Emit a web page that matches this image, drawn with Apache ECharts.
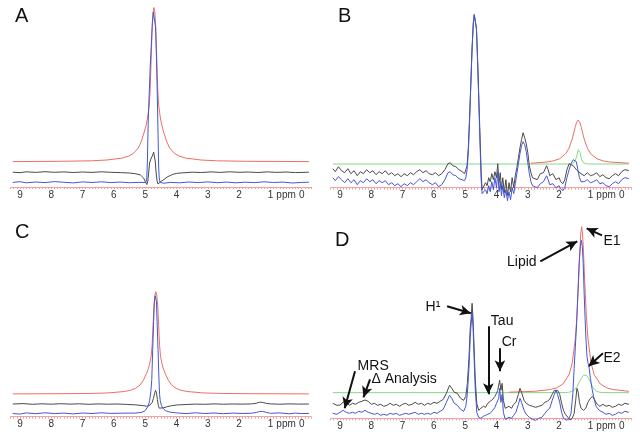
<!DOCTYPE html>
<html>
<head>
<meta charset="utf-8">
<script src="https://cdn.jsdelivr.net/npm/echarts@6/dist/echarts.min.js"></script>
<style>
html,body{margin:0;padding:0;background:#fff;}
#c{width:640px;height:439px;}
</style>
</head>
<body>
<div id="c"></div>
<script>
// ---------- tick labels ----------
const tickValues = [0,1,2,3,4,5,6,7,8,9];
const unitLabel = {value: 0.5, text: 'ppm'};
const panelLetters = ['A','B','C','D'];

// ---------- panel A ----------
const redA = [[9.23,25.4],[7.72,25.7],[6.72,26.2],[6.22,27],[5.72,29],[5.52,31],[5.37,33.7],[5.22,39],[5.12,46],[5.02,56],[4.97,62],[4.92,70],[4.87,82],[4.84,98],[4.81,128],[4.78,158],[4.75,174],[4.72,179.5],[4.69,174],[4.66,158],[4.63,128],[4.6,98],[4.57,82],[4.52,70],[4.47,62],[4.42,56],[4.32,46],[4.22,39],[4.07,33.7],[3.92,31],[3.72,29],[3.22,27],[2.72,26.2],[1.72,25.7],[-0.23,25.4]];
const blackA = [[9.23,14.8],[9.0,14.3],[8.8,15.2],[8.5,14.6],[8.2,15.3],[7.9,14.7],[7.6,15.1],[7.3,14.5],[7.0,15.0],[6.7,14.6],[6.4,15.2],[6.1,14.7],[5.8,14.4],[5.5,14.0],[5.3,13.2],[5.15,12],[5.05,9],[4.99,5],[4.95,2.5],[4.92,5],[4.89,14],[4.86,24],[4.82,28],[4.79,28.5],[4.76,32],[4.73,35],[4.7,33.5],[4.68,26],[4.65,14],[4.62,6],[4.59,3],[4.56,4],[4.5,5.5],[4.4,7.5],[4.3,10],[4.2,11.5],[4.1,12.8],[4.0,13.6],[3.8,14.2],[3.5,14.8],[3.2,14.5],[2.9,15.1],[2.6,14.6],[2.3,15.2],[2.0,14.7],[1.7,15.0],[1.4,14.5],[1.1,15.1],[0.8,14.6],[0.5,15.0],[0.2,14.4],[-0.23,14.8]];
const blueA = [[9.23,4.6],[9.0,5.3],[8.8,4.2],[8.5,5.0],[8.2,4.4],[7.9,5.4],[7.6,4.7],[7.3,4.1],[7.0,5.1],[6.7,4.5],[6.4,5.2],[6.1,4.4],[5.8,4.9],[5.5,4.3],[5.2,4.6],[4.98,4.5],[4.95,8],[4.93,25],[4.915,50],[4.9,70],[4.87,95],[4.84,120],[4.8,145],[4.77,165],[4.74,175],[4.72,177],[4.7,174],[4.67,160],[4.64,130],[4.62,100],[4.6,70],[4.585,45],[4.57,20],[4.55,8],[4.52,4.5],[4.4,3.8],[4.2,4.6],[3.9,4.2],[3.6,5.0],[3.3,4.4],[3.0,5.1],[2.7,4.3],[2.4,4.9],[2.1,4.2],[1.8,4.8],[1.5,4.4],[1.2,5.2],[0.9,4.5],[0.6,4.9],[0.3,4.0],[0.0,4.6],[-0.23,4.8]];

// ---------- panel B ----------
const greenB = [[9.23,23.7],[1.58,23.7],[1.5,26],[1.44,31],[1.39,38],[1.36,39.5],[1.33,35],[1.28,28],[1.22,25],[1.15,24],[1.05,23.7],[-0.23,23.7]];
const redB = [[2.9,24.4],[2.39,25.7],[2.19,26.8],[1.99,28.9],[1.79,33.9],[1.69,39.1],[1.59,47.8],[1.54,53.7],[1.49,60.2],[1.44,65.5],[1.39,67.7],[1.34,65.5],[1.29,60.2],[1.24,53.7],[1.19,47.8],[1.09,39.1],[0.99,33.9],[0.79,28.9],[0.59,26.8],[0.39,25.7],[-0.23,24.5]];
const blackB = [[9.23,19],[9.15,16],[9.05,21],[8.95,17],[8.85,15],[8.75,19],[8.65,14],[8.55,17],[8.45,12],[8.35,16],[8.25,14],[8.15,18],[8.05,15],[7.95,17],[7.85,13],[7.75,16],[7.65,14],[7.55,17],[7.45,13],[7.35,15],[7.25,12],[7.15,14],[7.05,11],[6.95,14],[6.85,12],[6.75,15],[6.65,13],[6.55,16],[6.45,18],[6.35,15],[6.25,17],[6.15,14],[6.05,13],[5.95,15],[5.85,12],[5.75,14],[5.65,18],[5.55,24],[5.48,25],[5.4,22],[5.3,21],[5.2,18],[5.1,16],[5.02,14],[4.98,15],[4.94,22],[4.9,40],[4.86,70],[4.82,105],[4.78,140],[4.74,165],[4.71,173],[4.69,174.4],[4.67,172],[4.64,160],[4.6,125],[4.56,85],[4.52,45],[4.49,15],[4.46,-2],[4.43,-4],[4.4,0],[4.35,5],[4.3,2],[4.25,10],[4.2,6],[4.15,14],[4.1,8],[4.05,16],[4.0,10],[3.96,24],[3.92,5],[3.88,15],[3.84,-2],[3.8,10],[3.75,-5],[3.7,8],[3.65,-8],[3.6,5],[3.55,-4],[3.5,10],[3.45,0],[3.4,12],[3.35,20],[3.3,30],[3.25,40],[3.2,48],[3.15,55],[3.1,50],[3.05,44],[3.0,35],[2.95,22],[2.9,15],[2.85,10],[2.8,12],[2.7,8],[2.6,14],[2.5,15],[2.4,22],[2.35,18],[2.3,12],[2.2,14],[2.1,8],[2.0,10],[1.95,6],[1.88,4],[1.82,8],[1.75,18],[1.68,24],[1.62,26],[1.55,22],[1.5,20],[1.45,18],[1.4,16],[1.3,14],[1.2,12],[1.1,15],[1.0,12],[0.9,13],[0.8,15],[0.7,11],[0.6,13],[0.5,10],[0.4,9],[0.3,12],[0.2,14],[0.1,12],[0.0,16],[-0.1,18],[-0.23,17]];
const blueB = [[9.23,10],[9.15,7],[9.05,11],[8.95,8],[8.85,5],[8.75,9],[8.65,5],[8.55,8],[8.45,3],[8.35,7],[8.25,5],[8.15,9],[8.05,6],[7.95,8],[7.85,4],[7.75,7],[7.65,5],[7.55,7],[7.45,3],[7.35,5],[7.25,2],[7.15,4],[7.05,1],[6.95,4],[6.85,2],[6.75,5],[6.65,3],[6.55,6],[6.45,9],[6.35,6],[6.25,8],[6.15,5],[6.05,3],[5.95,5],[5.85,1],[5.75,3],[5.65,8],[5.55,15],[5.48,16],[5.4,13],[5.3,12],[5.2,9],[5.1,8],[5.02,7],[4.98,10],[4.94,18],[4.9,36],[4.86,67],[4.82,103],[4.78,139],[4.74,165],[4.71,173],[4.69,174.4],[4.67,172],[4.64,158],[4.6,122],[4.56,80],[4.52,38],[4.49,8],[4.46,-6],[4.43,-7],[4.4,-5],[4.35,-2],[4.3,-6],[4.25,2],[4.2,-4],[4.15,6],[4.1,-2],[4.05,10],[4.0,0],[3.96,16],[3.92,-4],[3.88,6],[3.84,-8],[3.8,2],[3.75,-10],[3.7,-2],[3.65,-13],[3.6,-4],[3.55,-12],[3.5,0],[3.45,-6],[3.4,4],[3.35,14],[3.3,24],[3.25,34],[3.2,42],[3.15,46],[3.1,43],[3.05,36],[3.0,25],[2.95,14],[2.9,6],[2.85,2],[2.8,4],[2.7,0],[2.6,4],[2.5,6],[2.4,12],[2.35,8],[2.3,3],[2.2,4],[2.1,0],[2.0,2],[1.95,-1],[1.88,-3],[1.82,0],[1.75,10],[1.68,18],[1.62,24],[1.55,28],[1.5,30],[1.45,26],[1.4,18],[1.35,10],[1.3,6],[1.2,6],[1.1,8],[1.0,5],[0.9,6],[0.8,8],[0.7,4],[0.6,5],[0.5,2],[0.4,1],[0.3,4],[0.2,6],[0.1,4],[0.0,8],[-0.1,10],[-0.23,9]];

// ---------- panel C ----------
const redC = [[9.23,22.8],[7.66,23],[6.66,23.3],[6.16,23.8],[5.66,25.2],[5.46,26.5],[5.31,28.3],[5.16,31.8],[5.06,36.4],[4.96,43],[4.91,47],[4.86,52.4],[4.81,60.3],[4.78,71],[4.75,91],[4.72,110.9],[4.69,121.5],[4.66,125],[4.63,121.5],[4.6,110.9],[4.57,91],[4.54,71],[4.51,60.3],[4.46,52.4],[4.41,47],[4.36,43],[4.26,36.4],[4.16,31.8],[4.01,28.3],[3.86,26.5],[3.66,25.2],[3.16,23.8],[2.66,23.3],[1.66,23],[-0.23,22.8]];
const blackC = [[9.23,12.7],[8.9,13.1],[8.6,12.4],[8.3,12.9],[8.0,12.5],[7.7,13],[7.4,12.6],[7.1,12.9],[6.8,12.4],[6.5,12.8],[6.2,12.5],[5.9,12.7],[5.6,12.3],[5.3,11.8],[5.1,11.2],[4.95,10.5],[4.85,11.5],[4.78,14],[4.74,18],[4.7,23],[4.67,26.5],[4.64,24],[4.61,17],[4.58,11],[4.55,8.5],[4.5,8.3],[4.4,9],[4.3,10],[4.15,11],[4.0,11.7],[3.7,12.2],[3.4,12.6],[3.1,12.4],[2.8,12.8],[2.5,12.5],[2.2,12.7],[1.9,12.6],[1.6,12.8],[1.45,13.5],[1.35,14.5],[1.25,14.3],[1.12,13.3],[1.0,12.8],[0.7,12.5],[0.4,12.8],[0.1,12.6],[-0.23,12.7]];
const blueC = [[9.23,3.2],[9.0,2.6],[8.8,3.8],[8.5,3.0],[8.2,3.9],[7.9,3.1],[7.6,3.6],[7.3,2.8],[7.0,3.7],[6.7,3.2],[6.4,3.9],[6.1,3.3],[5.8,3.5],[5.5,3.6],[5.3,3.6],[5.1,4.5],[5.0,6],[4.95,8],[4.9,11],[4.86,16],[4.82,25],[4.79,37],[4.76,67],[4.73,95],[4.71,113],[4.68,121],[4.66,122],[4.64,115],[4.62,95],[4.6,75],[4.59,67],[4.56,37],[4.54,22],[4.52,16],[4.48,11],[4.42,8],[4.35,6],[4.2,4.5],[4.0,3.8],[3.7,3.1],[3.4,3.9],[3.1,3.2],[2.8,3.7],[2.5,3.0],[2.2,3.6],[1.9,3.2],[1.6,3.5],[1.45,4.2],[1.35,5.2],[1.25,5.3],[1.12,4.3],[1.0,3.4],[0.7,3.8],[0.4,2.9],[0.2,3.6],[0.0,3.1],[-0.23,3.3]];

// ---------- panel D ----------
const greenD = [[9.23,25.6],[1.8,25.7],[1.7,26],[1.6,26.8],[1.5,28.8],[1.42,32],[1.35,36.5],[1.28,40.5],[1.22,43],[1.17,44],[1.12,43],[1.06,40],[1.0,36],[0.94,32],[0.88,29],[0.8,27],[0.7,26],[0.55,25.7],[-0.23,25.6]];
const redD = [[3.6,26.1],[2.78,27],[2.28,28.8],[2.08,30.5],[1.88,34.2],[1.68,43.7],[1.58,55.3],[1.48,80.2],[1.43,103],[1.38,135.5],[1.34,165.9],[1.31,184.3],[1.28,191.6],[1.25,184.3],[1.22,165.9],[1.18,135.5],[1.13,103],[1.08,80.2],[0.98,55.3],[0.88,43.7],[0.68,34.2],[0.48,30.5],[0.28,28.8],[-0.23,27]];
const blackD = [[9.23,15],[9.1,13],[9.0,13.3],[8.9,16],[8.8,16.6],[8.7,13],[8.6,15],[8.5,14],[8.4,16],[8.3,17],[8.2,18.3],[8.1,17],[8.0,14],[7.9,15],[7.8,13],[7.7,14],[7.6,12],[7.5,13],[7.4,15],[7.3,13],[7.2,14],[7.1,12],[7.0,14],[6.9,15],[6.8,13],[6.7,14],[6.6,16],[6.5,14],[6.4,15],[6.3,13],[6.2,15],[6.1,14],[6.0,16],[5.9,15],[5.8,17],[5.7,19],[5.6,25],[5.5,33],[5.43,30],[5.35,26],[5.25,25],[5.15,20],[5.05,18],[4.98,22],[4.93,35],[4.88,60],[4.84,90],[4.81,100],[4.78,115],[4.75,100],[4.72,75],[4.68,40],[4.63,15],[4.57,8],[4.5,10],[4.42,12],[4.35,11],[4.28,15],[4.2,17],[4.12,19],[4.05,22],[4.0,25],[3.96,28],[3.93,30],[3.9,38],[3.86,28],[3.82,35],[3.78,18],[3.72,10],[3.66,8],[3.6,12],[3.52,10],[3.45,14],[3.38,16],[3.3,24],[3.25,30],[3.2,26],[3.12,18],[3.05,15],[2.95,13],[2.85,12],[2.75,11],[2.65,12],[2.55,13],[2.45,16],[2.38,17],[2.3,19],[2.22,24],[2.15,28],[2.1,30],[2.05,28],[1.98,24],[1.92,15],[1.86,8],[1.8,4],[1.72,1],[1.65,-1.7],[1.58,0],[1.52,5],[1.47,18],[1.43,30],[1.39,26],[1.35,16],[1.3,10],[1.22,8],[1.15,10],[1.08,16],[1.0,20],[0.93,22],[0.86,18],[0.78,14],[0.7,12],[0.6,14],[0.5,12],[0.4,13],[0.3,11],[0.2,12],[0.1,14],[0.0,13],[-0.1,15],[-0.23,14]];
const blueD = [[9.23,5],[9.1,4],[9.0,6],[8.9,8],[8.8,6],[8.7,5],[8.6,6],[8.5,5],[8.4,7],[8.3,6],[8.2,8],[8.1,6],[8.0,5],[7.9,4],[7.8,5],[7.7,3],[7.6,4],[7.5,3],[7.4,5],[7.3,4],[7.2,5],[7.1,3],[7.0,4],[6.9,5],[6.8,4],[6.7,5],[6.6,6],[6.5,4],[6.4,5],[6.3,4],[6.2,5],[6.1,4],[6.0,6],[5.9,5],[5.8,7],[5.7,9],[5.6,16],[5.5,23],[5.43,20],[5.35,15],[5.25,13],[5.15,9],[5.05,7],[4.98,12],[4.93,25],[4.88,50],[4.84,80],[4.81,95],[4.78,105],[4.75,92],[4.72,65],[4.68,30],[4.63,6],[4.57,1],[4.5,0],[4.42,2],[4.35,3],[4.28,4],[4.2,5],[4.12,8],[4.05,11],[4.0,15],[3.96,17],[3.93,20],[3.9,30],[3.86,16],[3.82,24],[3.78,6],[3.72,-1],[3.66,-2],[3.6,1],[3.52,0],[3.45,3],[3.38,6],[3.3,14],[3.25,20],[3.2,16],[3.12,8],[3.05,4],[2.95,1],[2.85,-1],[2.75,-2],[2.65,0],[2.55,1],[2.45,5],[2.38,8],[2.3,10],[2.22,18],[2.15,24],[2.1,28],[2.05,24],[1.98,16],[1.92,6],[1.86,0],[1.8,-2],[1.75,-2],[1.68,0],[1.62,5],[1.56,25],[1.52,50],[1.48,72],[1.44,95],[1.4,125],[1.36,155],[1.32,172],[1.29,178],[1.26,172],[1.23,155],[1.2,125],[1.17,100],[1.14,78],[1.11,62],[1.08,56],[1.04,50],[1.0,40],[0.95,30],[0.9,22],[0.82,12],[0.72,8],[0.6,6],[0.5,4],[0.4,5],[0.3,3],[0.2,4],[0.1,6],[0.0,5],[-0.1,7],[-0.23,6]];

// ---------- annotations (panel D, data coordinates) ----------
const annotations = [
  {label:'E1', at:[0.31,177], from:[0.63,183], to:[1.12,190]},
  {label:'Lipid', at:[3.19,156], from:[2.6,157], to:[1.42,177]},
  {label:'H\u00b9', at:[6.03,111], from:[5.58,112], to:[4.82,105]},
  {label:'Tau', at:[3.82,97], from:[4.26,92], to:[4.26,24]},
  {label:'Cr', at:[3.6,76], from:[3.89,70], to:[3.89,47]},
  {label:'MRS', at:[7.94,52], from:[8.52,47], to:[8.85,10]},
  {label:'\u0394 Analysis', at:[6.95,39], from:[8.04,39], to:[8.25,21]},
  {label:'E2', at:[0.31,60], from:[0.6,65], to:[1.06,52]}
];

const FONT = '"Liberation Sans", Arial, Helvetica, sans-serif';
const C_RED = '#ec6f66', C_BLK = '#4a4a4a', C_BLUE = '#4357d6', C_GRN = '#86d886', C_AXIS = '#f2a0a0';

function fmt(v){
  if (Math.abs(v - unitLabel.value) < 1e-6) return unitLabel.text;
  const r = Math.round(v);
  if (Math.abs(v - r) < 1e-6 && tickValues.indexOf(r) >= 0) return String(r);
  return '';
}

const grids = [
  {left:10.6, top:2,     width:300.5, height:185},
  {left:330.6, top:2.7,  width:300.5, height:185},
  {left:10.6, top:286.7, width:300.5, height:130},
  {left:330.6, top:218.3,width:300.5, height:200}
].map(g => Object.assign({containLabel:false, outerBoundsMode:'none', show:false}, g));

const yRanges = [[0,185],[0,185],[0,130],[0,200]];

const xAxes = grids.map((g,i) => ({
  gridIndex:i, type:'value', inverse:true, min:-0.3, max:9.3, interval:0.1,
  axisLine:{show:true, onZero:false, lineStyle:{color:C_AXIS, width:1}},
  axisTick:{show:true, length:2, lineStyle:{color:C_AXIS, width:1}},
  axisLabel:{formatter:fmt, color:'#333', fontSize:10, fontFamily:FONT, margin:3},
  splitLine:{show:false}
}));
const yAxes = grids.map((g,i) => ({gridIndex:i, type:'value', min:yRanges[i][0], max:yRanges[i][1], show:false, splitLine:{show:false}}));

function line(data, color, idx, z, extra){
  return Object.assign({
    type:'line', xAxisIndex:idx, yAxisIndex:idx, data:data, clip:false,
    showSymbol:false, symbol:'none', silent:true, z:z,
    lineStyle:{color:color, width:1}, itemStyle:{color:color},
    emphasis:{disabled:true}
  }, extra || {});
}

const arrowLines = annotations.map(a => [{coord:a.from}, {coord:a.to}]);

const series = [
  line(redA, C_RED, 0, 2), line(blackA, C_BLK, 0, 3), line(blueA, C_BLUE, 0, 4),
  line(greenB, C_GRN, 1, 2), line(redB, C_RED, 1, 3), line(blackB, C_BLK, 1, 4), line(blueB, C_BLUE, 1, 5),
  line(redC, C_RED, 2, 2), line(blackC, C_BLK, 2, 3), line(blueC, C_BLUE, 2, 4),
  line(greenD, C_GRN, 3, 2), line(redD, C_RED, 3, 3), line(blackD, C_BLK, 3, 4), line(blueD, C_BLUE, 3, 5, {
    markLine:{
      silent:true, symbol:['none','arrow'], symbolSize:[8,11], animation:false,
      label:{show:false}, emphasis:{disabled:true},
      lineStyle:{color:'#111', width:2, type:'solid'},
      data:arrowLines
    }
  })
];

const chart = echarts.init(document.getElementById('c'), null, {renderer:'canvas'});
chart.setOption({
  animation:false,
  backgroundColor:'#fff',
  grid:grids, xAxis:xAxes, yAxis:yAxes, series:series
});

const letterPos = [[15,6],[338,6],[15,222],[335,230]];
const graphics = panelLetters.map((t,i) => ({
  type:'text', left:letterPos[i][0], top:letterPos[i][1], z:100,
  style:{text:t, font:'20px ' + FONT, fill:'#111'}
}));
annotations.forEach(a => {
  const p = chart.convertToPixel({gridIndex:3}, a.at);
  graphics.push({type:'text', x:p[0], y:p[1], z:100,
    style:{text:a.label, font:'14px ' + FONT, fill:'#111', align:'center', verticalAlign:'middle'}});
});
chart.setOption({graphic:graphics});
</script>
</body>
</html>
